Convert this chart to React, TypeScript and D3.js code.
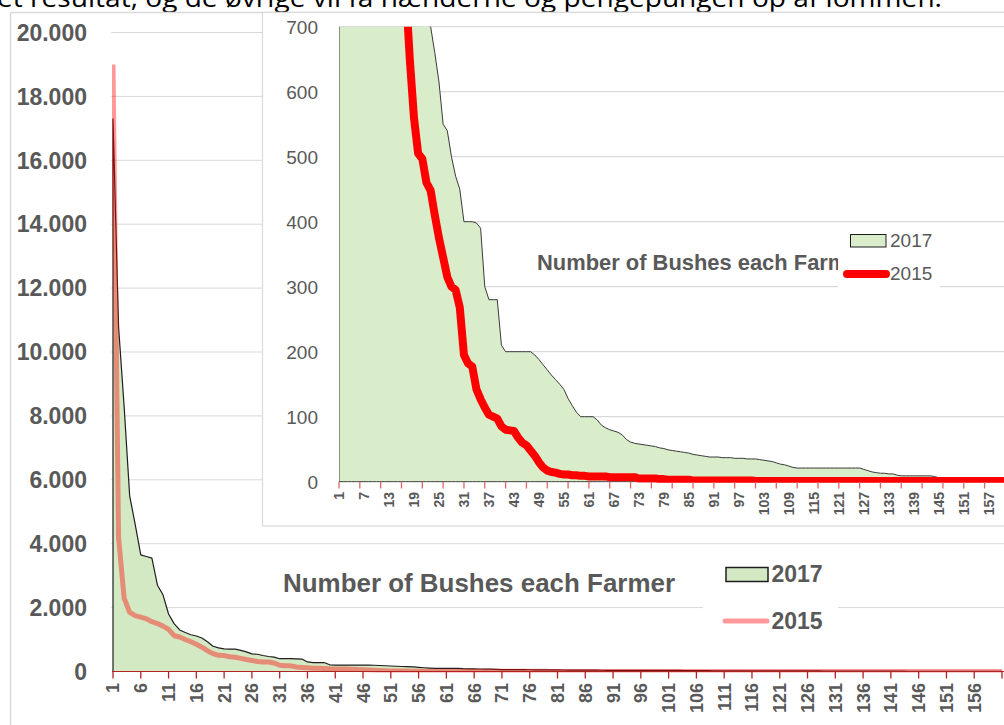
import React from 'react';
import * as d3 from 'd3';

// Number of bushes per farmer (farmers sorted descending)
const bushes2017 = [
  17300, 10800, 8300, 5500, 4600, 3650, 3600, 3550, 2700, 2400,
  1800, 1500, 1300, 1220, 1150, 1110, 1050, 930, 790, 740,
  710, 703, 700, 660, 615, 550, 540, 500, 470, 450,
  400, 400, 400, 398, 390, 300, 280, 280, 280, 210,
  200, 200, 200, 200, 200, 200, 200, 195, 188, 180,
  172, 164, 157, 150, 142, 128, 117, 107, 100, 100,
  100, 100, 95, 87, 83, 80, 78, 76, 72, 65,
  61, 59, 58, 57, 56, 55, 54, 52, 51, 49,
  48, 47, 46, 45, 44, 42, 41, 40, 39, 38,
  38, 38, 37, 37, 37, 36, 36, 36, 35, 35,
  35, 34, 33, 32, 31, 29, 27, 26, 24, 22,
  21, 21, 21, 21, 21, 21, 21, 21, 21, 21,
  21, 21, 21, 21, 21, 21, 19, 17, 15, 14,
  13, 13, 12, 12, 10, 9, 9, 9, 9, 9,
  9, 9, 9, 8, 6, 5, 3, 2, 2, 2,
  1, 1, 1, 1, 1, 1, 1, 1, 1, 1,
  1,
];

const bushes2015 = [
  19000, 4200, 2300, 1850, 1750, 1700, 1650, 1560, 1500, 1420,
  1320, 1120, 1080, 1000, 930, 850, 760, 650, 560, 505,
  497, 460, 448, 410, 375, 345, 315, 300, 295, 268,
  195, 182, 177, 142, 127, 114, 103, 100, 97, 85,
  80, 79, 78, 68, 60, 56, 48, 40, 30, 22,
  17, 15, 14, 12, 11, 11, 10, 10, 9, 9,
  8, 8, 8, 8, 8, 7, 7, 7, 7, 7,
  7, 7, 5, 5, 5, 5, 5, 4, 4, 3,
  3, 3, 3, 3, 3, 2, 2, 2, 2, 2,
  2, 2, 2, 2, 2, 2, 2, 2, 2, 2,
  1, 1, 1, 1, 1, 1, 1, 1, 1, 1,
  1, 1, 1, 1, 1, 1, 1, 1, 1, 1,
  1, 1, 1, 1, 1, 1, 1, 1, 1, 1,
  1, 1, 1, 1, 1, 1, 1, 1, 1, 1,
  1, 1, 1, 1, 1, 1, 1, 1, 1, 1,
  1, 1, 1, 1, 1, 1, 1, 1, 1, 1,
  1,
];

const farmers = bushes2017.map((_, i) => i + 1);

const mainYTicks = [0, 2000, 4000, 6000, 8000, 10000, 12000, 14000, 16000, 18000, 20000];
const insetYTicks = [0, 100, 200, 300, 400, 500, 600, 700];
const mainXLabels = [1, 6, 11, 16, 21, 26, 31, 36, 41, 46, 51, 56, 61, 66, 71, 76, 81, 86, 91, 96, 101, 106, 111, 116, 121, 126, 131, 136, 141, 146, 151, 156];
const mainXTicks = [1, 6, 11, 16, 21, 26, 31, 36, 41, 46, 51, 56, 61, 66, 71, 76, 81, 86, 91, 96, 101, 106, 111, 116, 121, 126, 131, 136, 141, 146, 151, 156, 161];
const insetXLabels = [1, 7, 13, 19, 25, 31, 37, 43, 49, 55, 61, 67, 73, 79, 85, 91, 97, 103, 109, 115, 121, 127, 133, 139, 145, 151, 157];
const insetXTicks = mainXTicks;
const legendYears = ['2017', '2015'];
const chartTitle = 'Number of Bushes each Farmer';
const pageText = 'et resultat, og de øvrige vil få hænderne og pengepungen op af lommen.';

const FONT = '"Liberation Sans", Arial, sans-serif';
const GRAY = '#595959';
const GRID = '#d9d9d9';

const fmtDot = (v: number) => d3.format(',')(v).replace(/,/g, '.');

type Pt = { i: number; v: number };

export default function App() {
  const s17: Pt[] = farmers.map((f, k) => ({ i: f, v: bushes2017[k] }));
  const s15: Pt[] = farmers.map((f, k) => ({ i: f, v: bushes2015[k] }));

  // main chart scales
  const mx = d3.scaleLinear().domain([1, 161]).range([113, 1002]);
  const my = d3.scaleLinear().domain([0, 20000]).range([671.5, 32.5]);
  // inset chart scales
  const ix = d3.scaleLinear().domain([1, 161]).range([339, 339 + 160 * 4.165]);
  const iy = d3.scaleLinear().domain([0, 700]).range([481.7, 26.7]);

  const mArea = d3.area<Pt>().x(d => mx(d.i)).y0(my(0)).y1(d => my(d.v));
  const mLine = d3.line<Pt>().x(d => mx(d.i)).y(d => my(d.v));
  const iArea = d3.area<Pt>().x(d => ix(d.i)).y0(iy(0)).y1(d => iy(d.v));
  const iLine = d3.line<Pt>().x(d => ix(d.i)).y(d => iy(d.v));

  return (
    <svg width={1004} height={725} style={{ position: 'absolute', left: 0, top: 0, display: 'block', background: '#fff' }} fontFamily={FONT}>
      <defs>
        <clipPath id="mainClip"><rect x={112} y={0} width={900} height={672.5} /></clipPath>
        <clipPath id="insetClip"><rect x={339} y={26.7} width={680} height={456} /></clipPath>
      </defs>
      <rect x={0} y={0} width={1004} height={725} fill="#fff" />
      {/* text of the page above, cut off */}
      <text x={-3} y={7} fontSize={26} fill="#000" textLength={945} lengthAdjust="spacingAndGlyphs" fontFamily='"Open Sans", "Liberation Sans", sans-serif'>{pageText}</text>

      {/* ===== main chart ===== */}
      <line x1={10.5} y1={12.5} x2={10.5} y2={725} stroke={GRID} strokeWidth={1.5} />
      <line x1={10.5} y1={12.5} x2={1004} y2={12.5} stroke={GRID} strokeWidth={1.5} />
      {mainYTicks.map(t => (
        <g key={'mg' + t}>
          {t > 0 && <line x1={111} x2={1004} y1={my(t)} y2={my(t)} stroke={GRID} strokeWidth={1} />}
          <text x={87} y={my(t)} dy="0.36em" textAnchor="end" fontSize={23} fontWeight="bold" fill={GRAY}>{fmtDot(t)}</text>
        </g>
      ))}
      <g clipPath="url(#mainClip)">
        <path d={mArea(s17) || ''} fill="#d3e9c4" stroke="#1e1e1e" strokeWidth={1.2} strokeLinejoin="round" />
        <path d={mLine(s15) || ''} fill="none" stroke="#ff0000" strokeOpacity={0.4} strokeWidth={5} strokeLinejoin="round" />
      </g>
      <line x1={112} x2={1004} y1={671.5} y2={671.5} stroke="#b22222" strokeWidth={1} />
      {mainXTicks.map(t => (
        <line key={'mt' + t} x1={mx(t)} x2={mx(t)} y1={671.5} y2={678.5} stroke="#b22222" strokeWidth={1.3} />
      ))}
      {mainXLabels.map(t => (
        <text key={'ml' + t} transform={`translate(${mx(t)},683) rotate(-90)`} textAnchor="end" dy="0.36em" fontSize={18} fontWeight="bold" fill={GRAY}>{t}</text>
      ))}
      <text x={283} y={591.7} fontSize={26} fontWeight="bold" fill={GRAY} textLength={392} lengthAdjust="spacingAndGlyphs">{chartTitle}</text>
      <rect x={703} y={550} width={135} height={90} fill="#fff" />
      <rect x={726} y={567.5} width={42} height={14} fill="#d3e9c4" stroke="#1e1e1e" strokeWidth={1.5} />
      <text x={771.5} y={582.3} fontSize={23} fontWeight="bold" fill={GRAY}>{legendYears[0]}</text>
      <line x1={725} x2={767} y1={621} y2={621} stroke="#ff0000" strokeOpacity={0.4} strokeWidth={5} strokeLinecap="round" />
      <text x={771.5} y={629.3} fontSize={23} fontWeight="bold" fill={GRAY}>{legendYears[1]}</text>

      {/* ===== inset chart ===== */}
      <rect x={262.5} y={12.5} width={760} height={513.5} fill="#fff" stroke={GRID} strokeWidth={1.2} />
      {insetYTicks.map(t => (
        <g key={'ig' + t}>
          {t > 0 && <line x1={339} x2={1004} y1={iy(t)} y2={iy(t)} stroke={GRID} strokeWidth={1.2} />}
          <text x={318} y={iy(t)} dy="0.36em" textAnchor="end" fontSize={19} fill={GRAY}>{t}</text>
        </g>
      ))}
      <g clipPath="url(#insetClip)">
        <path d={iArea(s17) || ''} fill="#d9edca" stroke="#3a3a3a" strokeWidth={1} strokeLinejoin="round" />
        <path d={iLine(s15) || ''} fill="none" stroke="#ff0000" strokeWidth={8} strokeLinejoin="round" strokeLinecap="round" />
      </g>
      {insetXTicks.map(t => (
        <line key={'it' + t} x1={ix(t)} x2={ix(t)} y1={482} y2={488.5} stroke="#e06666" strokeWidth={1.3} />
      ))}
      {insetXLabels.map(t => (
        <text key={'il' + t} transform={`translate(${ix(t)},492) rotate(-90)`} textAnchor="end" dy="0.36em" fontSize={14} fontWeight="bold" fill={GRAY}>{t}</text>
      ))}
      <text x={537} y={270} fontSize={22} fontWeight="bold" fill={GRAY} textLength={331} lengthAdjust="spacingAndGlyphs">{chartTitle}</text>
      <rect x={838} y={226} width={102} height={66} fill="#fff" />
      <rect x={850.5} y={234.5} width={35.5} height={12.5} fill="#d9edca" stroke="#1e1e1e" strokeWidth={1} />
      <text x={890} y={247.3} fontSize={19} fill={GRAY}>{legendYears[0]}</text>
      <line x1={847} x2={886} y1={274} y2={274} stroke="#ff0000" strokeWidth={8} strokeLinecap="round" />
      <text x={890} y={280} fontSize={19} fill={GRAY}>{legendYears[1]}</text>
    </svg>
  );
}
